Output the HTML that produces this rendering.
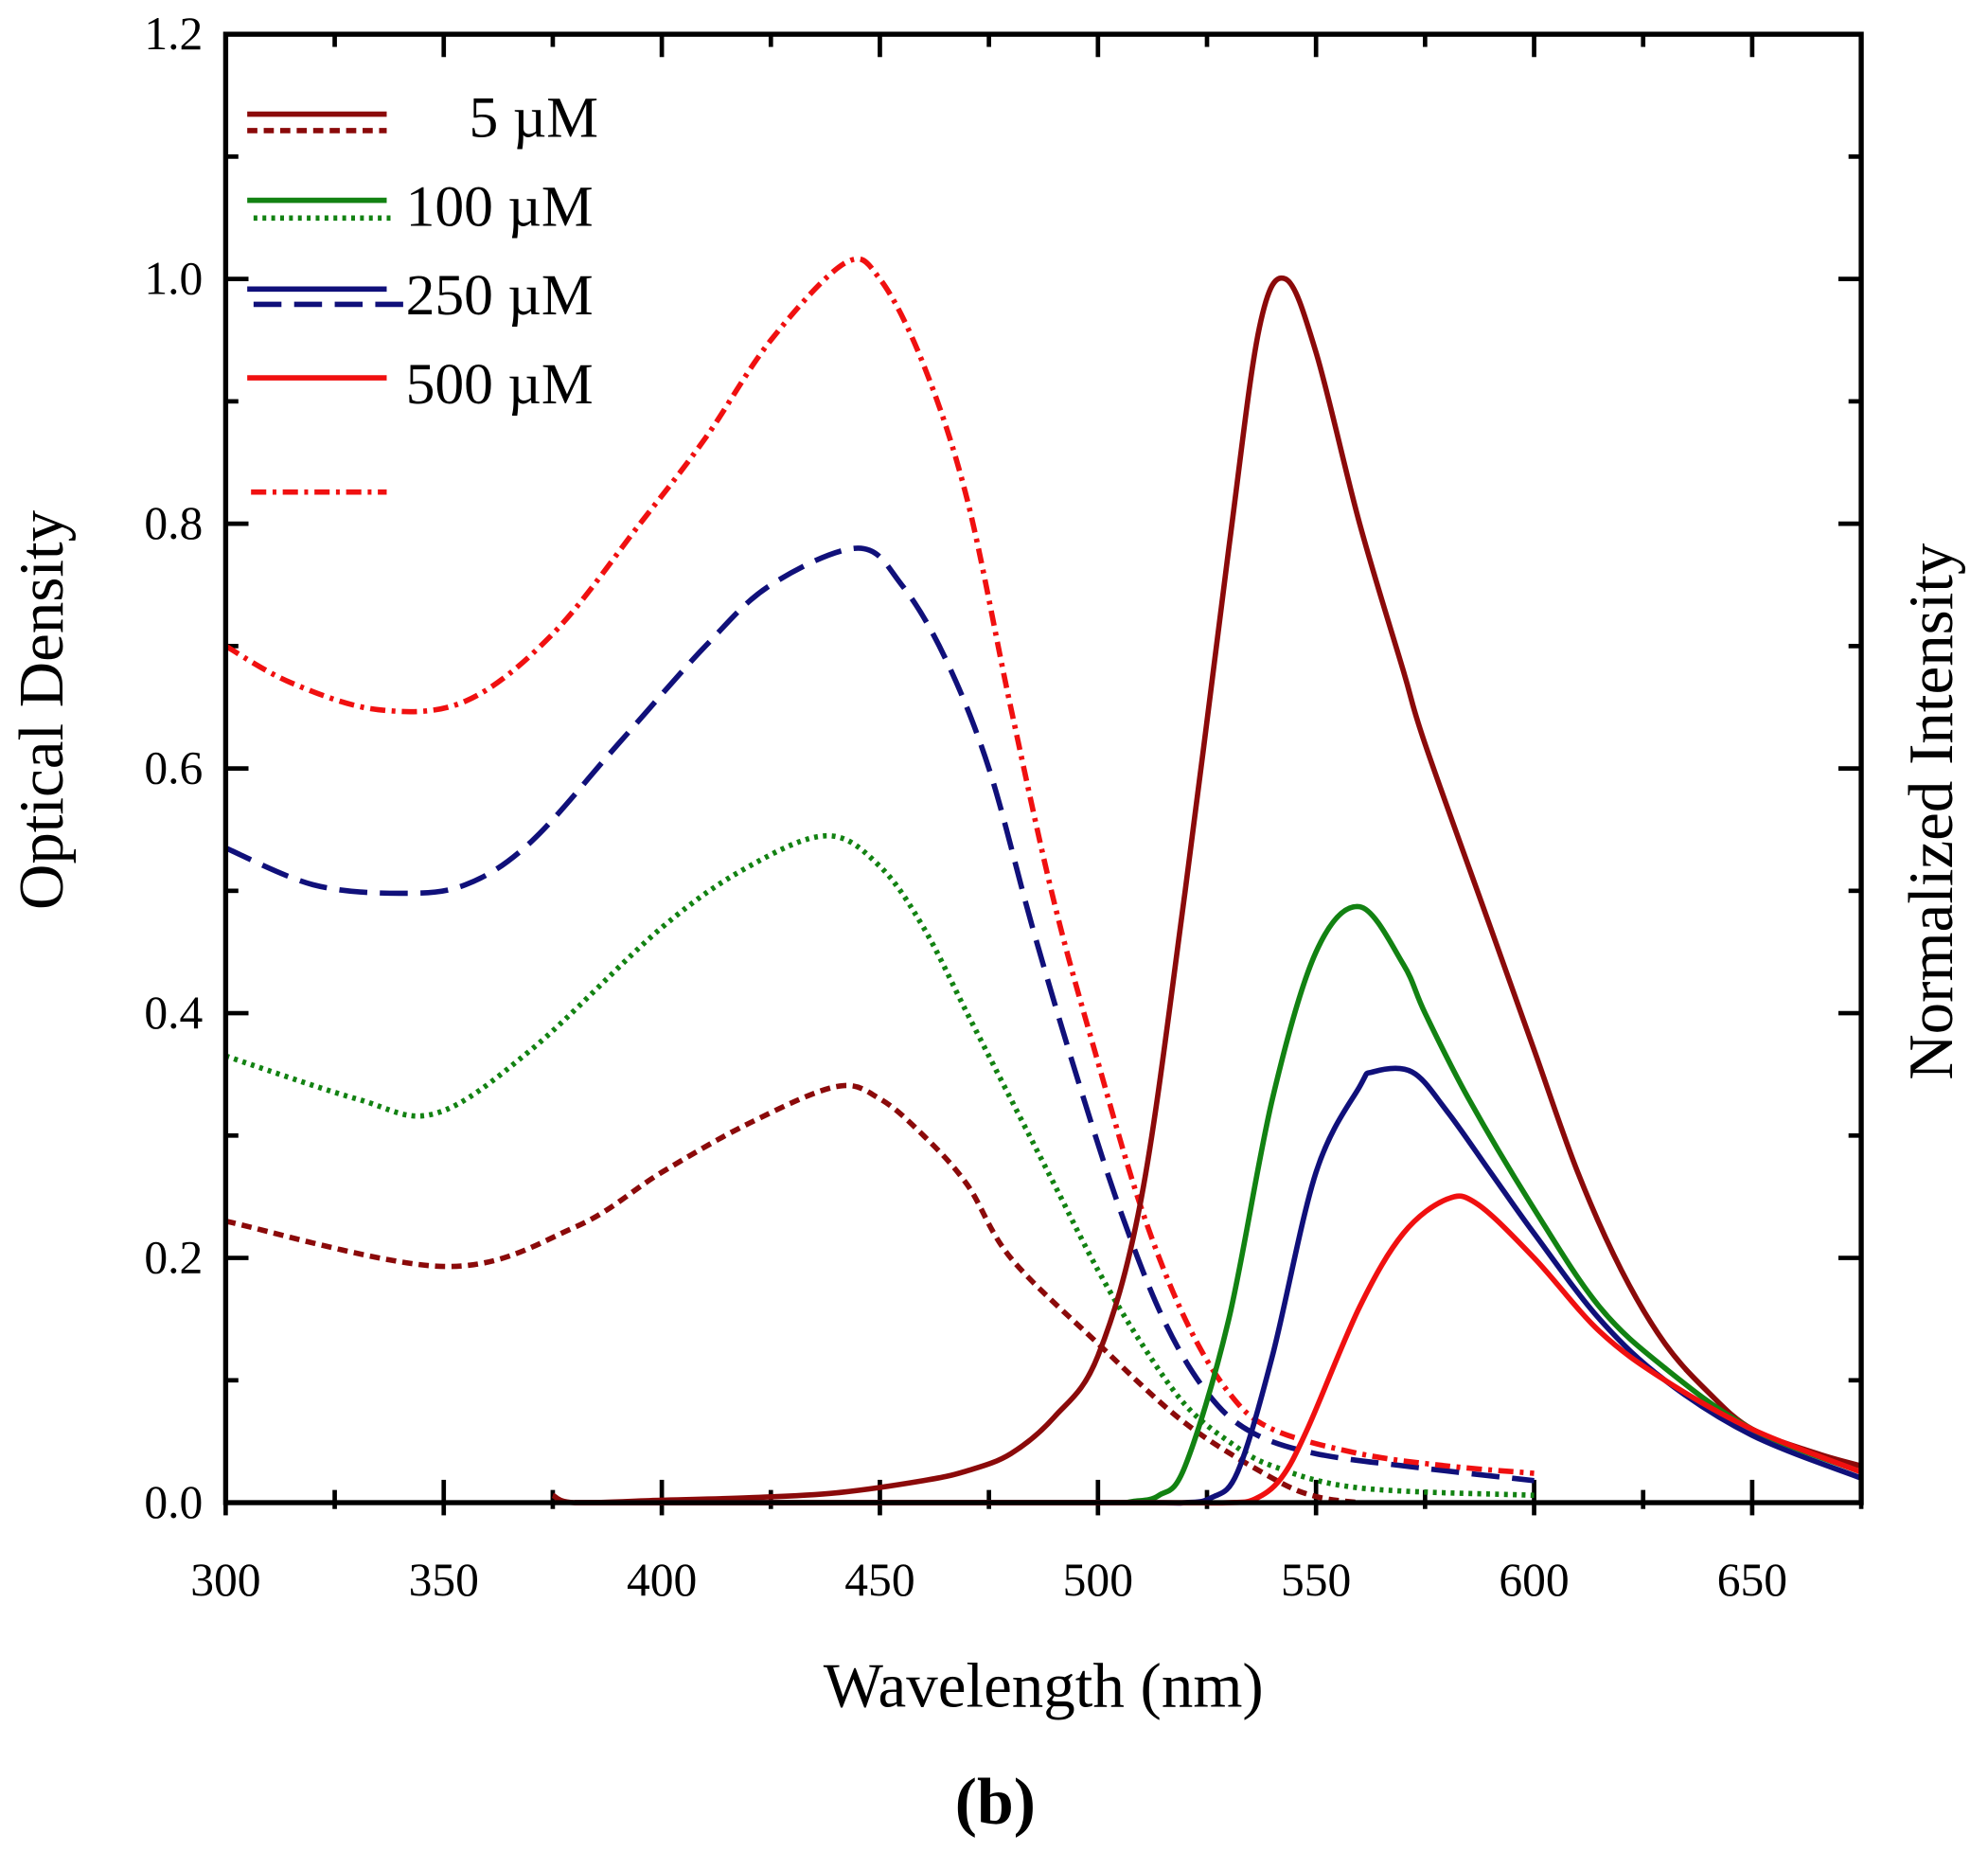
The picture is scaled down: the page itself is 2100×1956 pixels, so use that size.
<!DOCTYPE html>
<html><head><meta charset="utf-8"><style>
html,body{margin:0;padding:0;background:#fff;}
svg{display:block;}
text{font-family:"Liberation Serif",serif;fill:#000;}
</style></head><body>
<svg id="s" width="2100" height="1956" viewBox="0 0 1568 1460.5" preserveAspectRatio="none" xmlns="http://www.w3.org/2000/svg">
<rect x="0" y="0" width="1568" height="1460.5" fill="#fff"/>
<g id="ticks" stroke="#000" stroke-width="3.5"></g>
<g id="curves" fill="none" stroke-width="4.2" stroke-linejoin="round"></g>
<rect x="178" y="27" width="1290" height="1158" fill="none" stroke="#000" stroke-width="4"/>
<g id="labels" font-size="37"></g>
<text x="38" y="560" font-size="50" text-anchor="middle" transform="rotate(-90 38 560)" dominant-baseline="middle">Optical Density</text>
<text x="1528" y="640" font-size="50" text-anchor="middle" transform="rotate(-90 1528 640)" dominant-baseline="middle">Normalized Intensity</text>
<text x="823" y="1346" font-size="50" text-anchor="middle">Wavelength (nm)</text>
<text x="785" y="1438" font-size="52" font-weight="bold" text-anchor="middle">(b)</text>
<g font-size="46">
<text x="370" y="108">5 µM</text>
<text x="320" y="178">100 µM</text>
<text x="320" y="248">250 µM</text>
<text x="320" y="318">500 µM</text>
</g>
<g fill="none" stroke-width="4.2">
<line x1="195" y1="90" x2="305" y2="90" stroke="#8b0a0a"/>
<line x1="195" y1="103" x2="305" y2="103" stroke="#8b0a0a" stroke-dasharray="8 5"/>
<line x1="195" y1="158" x2="305" y2="158" stroke="#128212"/>
<line x1="200" y1="172" x2="310" y2="172" stroke="#128212" stroke-dasharray="3 4"/>
<line x1="195" y1="228" x2="305" y2="228" stroke="#10107a"/>
<line x1="200" y1="240" x2="325" y2="240" stroke="#10107a" stroke-dasharray="22 10"/>
<line x1="195" y1="298" x2="305" y2="298" stroke="#f01010"/>
<line x1="198" y1="388" x2="305" y2="388" stroke="#f01010" stroke-dasharray="12 5 3 5"/>
</g>
</svg>
<script>
const X=w=>178+(w-300)*3.44, Y=v=>1185-v*965;
const ns="http://www.w3.org/2000/svg";
function el(p,t,a){const e=document.createElementNS(ns,t);for(const k in a)e.setAttribute(k,a[k]);p.appendChild(e);return e;}
const T=document.getElementById('ticks'),L=document.getElementById('labels'),C=document.getElementById('curves');
for(let i=0;i<=12;i++){const y=Y(i/10);const len=i%2==0?18:10;
el(T,'line',{x1:178,y1:y,x2:178+len,y2:y});el(T,'line',{x1:1468,y1:y,x2:1468-len,y2:y});
if(i%2==0){const t=el(L,'text',{x:160,y:y+12,'text-anchor':'end'});t.textContent=(i/10).toFixed(1);}}
for(let w=300;w<=675;w+=25){const x=X(w);const len=w%50==0?18:10;
el(T,'line',{x1:x,y1:1185,x2:x,y2:1185-len});el(T,'line',{x1:x,y1:27,x2:x,y2:27+len});
el(T,'line',{x1:x,y1:1185,x2:x,y2:1185+(w%50==0?10:5)});
if(w%50==0){const t=el(L,'text',{x:x,y:1258,'text-anchor':'middle'});t.textContent=w;}}
function path(pts,col,dash){
 const P=[];for(let i=0;i<pts.length;i+=2)P.push([X(pts[i]),Y(pts[i+1])]);
 let d='M'+P[0][0]+','+P[0][1];
 for(let i=0;i<P.length-1;i++){const p0=P[Math.max(i-1,0)],p1=P[i],p2=P[i+1],p3=P[Math.min(i+2,P.length-1)];
  d+=' C'+(p1[0]+(p2[0]-p0[0])/6)+','+(p1[1]+(p2[1]-p0[1])/6)+' '+(p2[0]-(p3[0]-p1[0])/6)+','+(p2[1]-(p3[1]-p1[1])/6)+' '+p2[0]+','+p2[1];}
 const a={d:d,stroke:col};if(dash)a['stroke-dasharray']=dash;el(C,'path',a);}
path([300,.23,350,.193,380,.225,400,.27,420,.31,440,.34,450,.33,460,.3,470,.26,480,.2,500,.13,520,.065,540,.02,550,.005,560,0],'#8b0a0a','8 5');
path([300,.365,330,.33,348,.318,370,.37,400,.47,420,.52,438,.545,450,.52,460,.47,470,.4,480,.33,490,.26,500,.19,510,.13,520,.08,530,.05,540,.03,560,.012,600,.006],'#128212','3 4');
path([300,.535,320,.505,340,.498,355,.505,370,.54,390,.62,410,.7,425,.75,445,.78,455,.75,465,.69,475,.6,485,.47,495,.35,505,.24,515,.15,525,.09,535,.058,550,.04,575,.028,600,.018],'#10107a','22 10');
path([300,.7,315,.67,335,.648,355,.655,375,.71,395,.8,410,.87,425,.95,442,1.013,450,1.0,460,.93,470,.82,480,.65,490,.49,500,.36,510,.24,520,.15,530,.09,540,.06,560,.04,580,.03,600,.024],'#f01010','12 5 3 5');
path([375,.006,380,0,400,.002,420,.004,440,.008,460,.018,470,.026,480,.04,490,.07,500,.12,510,.25,520,.5,530,.78,537,.96,543,1.0,550,.94,560,.8,570,.68,575,.62,590,.47,600,.37,610,.27,620,.19,630,.13,640,.09,650,.06,665,.04,675,.03],'#8b0a0a');
path([380,0,450,0,500,0,508,.001,514,.006,520,.03,530,.15,540,.33,550,.45,560,.487,570,.44,575,.4,585,.33,600,.24,615,.16,630,.11,650,.06,675,.025],'#128212');
path([380,0,450,0,510,0,520,0,526,.004,532,.025,540,.12,550,.27,560,.34,563,.352,572,.352,580,.32,590,.27,600,.22,615,.15,630,.1,650,.055,675,.02],'#10107a');
path([380,0,450,0,515,0,530,0,536,.003,542,.02,548,.06,560,.16,570,.22,580,.248,587,.244,600,.2,615,.14,630,.1,650,.06,675,.025],'#f01010');
</script>
</body></html>
